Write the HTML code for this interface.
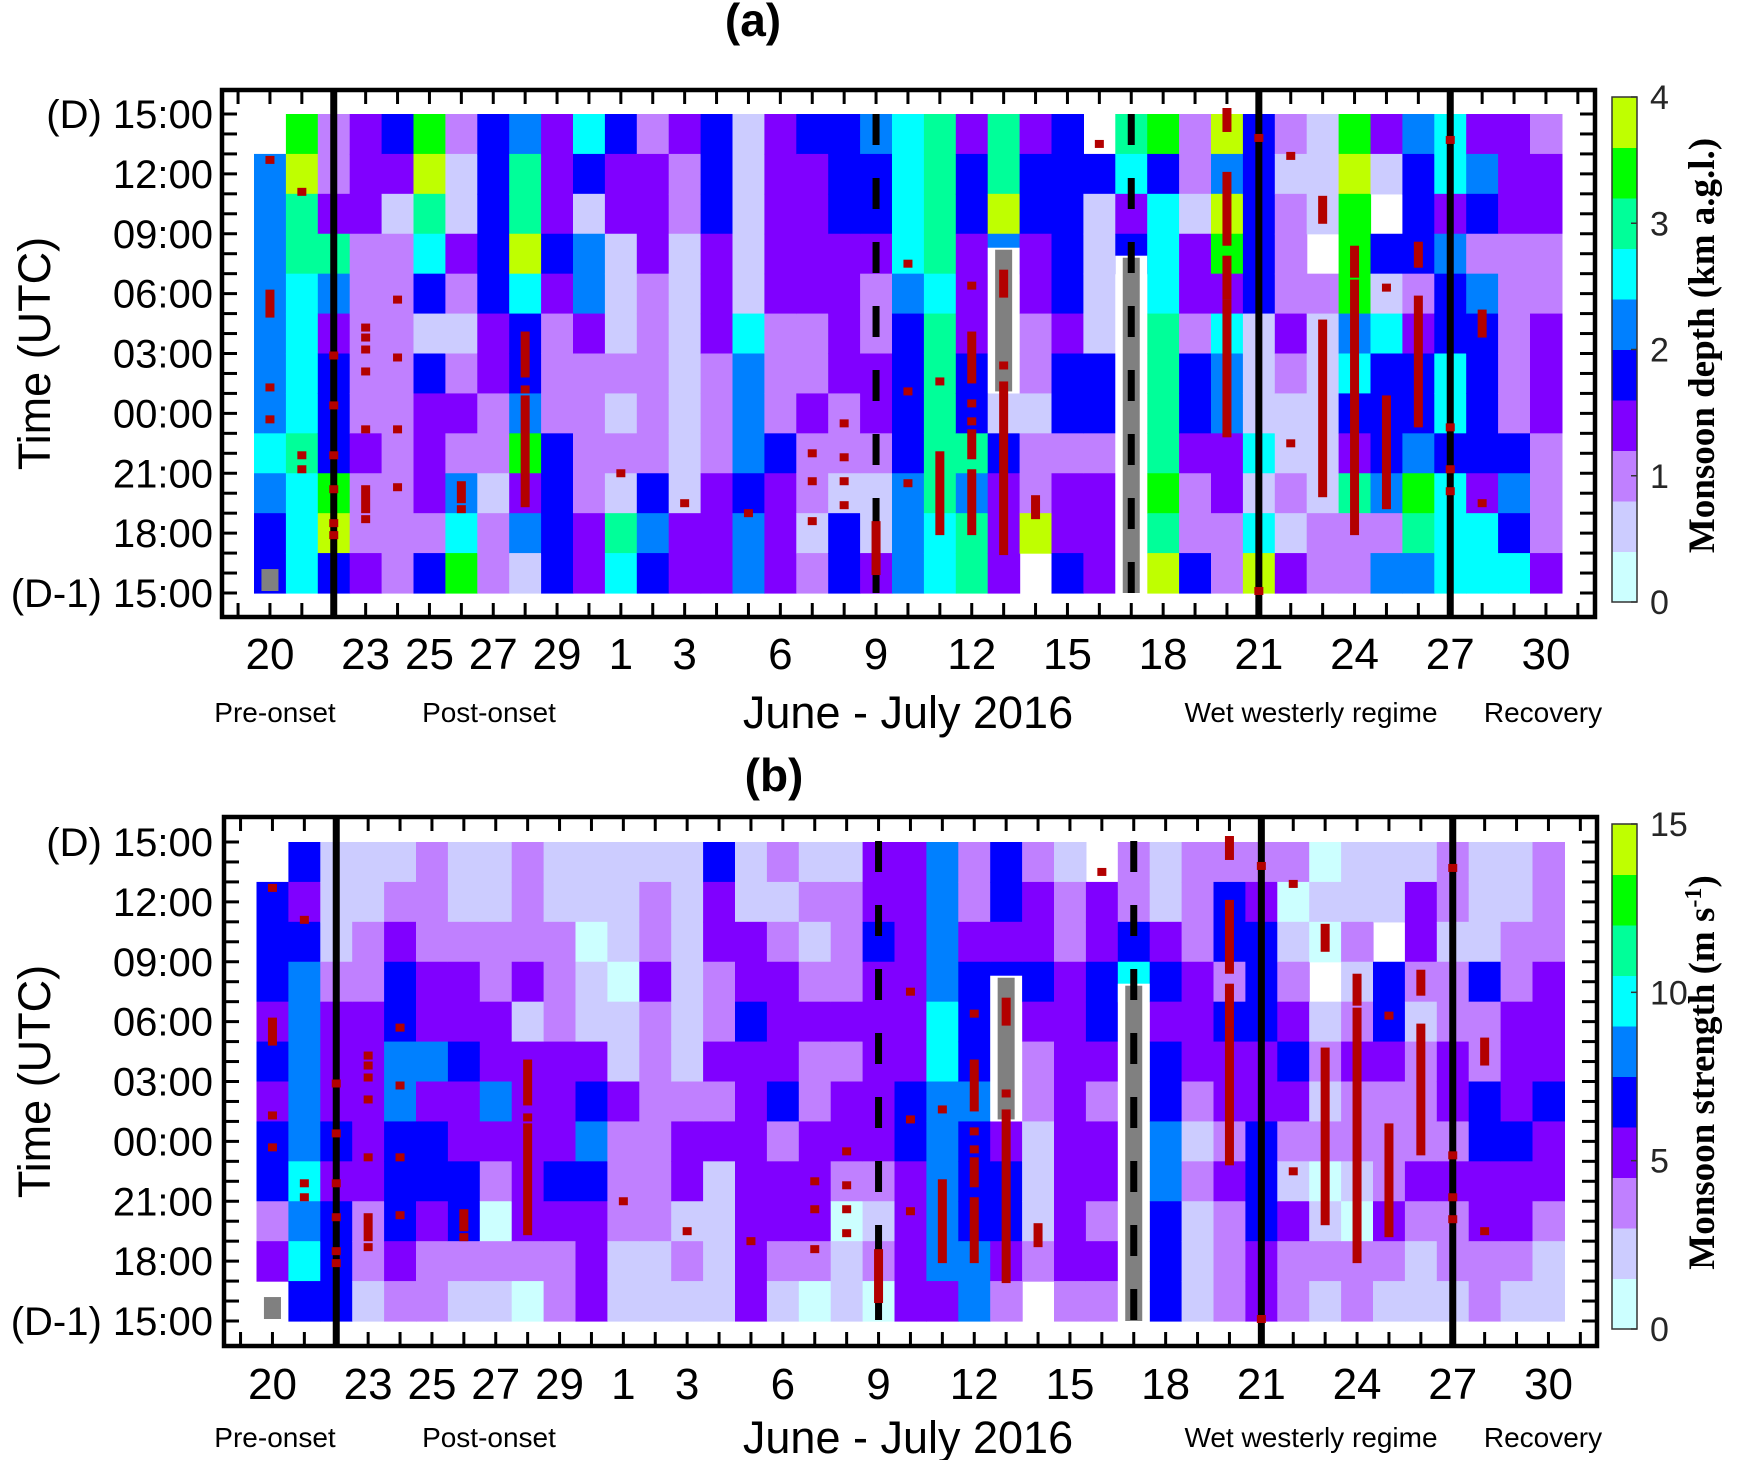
<!DOCTYPE html>
<html><head><meta charset="utf-8"><style>
html,body{margin:0;padding:0;background:#fff;}
svg{display:block;}
text{font-family:"Liberation Sans",Arial,sans-serif;}
</style></head><body>
<svg id="fig" width="1754" height="1460" viewBox="0 0 1754 1460" xmlns="http://www.w3.org/2000/svg"></svg>
<script>
// ---- data: monsoon depth (km a.g.l.), 12 two-hour bins per day, top (15:00 D) to bottom (15:00 D-1)
const depthA = [
[null,2.2,2.2,2.2,2.2,2.2,2.2,2.2,2.6,2.2,1.8,1.8],
[3.4,3.8,3,3,2.6,2.6,2.6,2.6,3,2.6,2.6,2.6],
[1,1,1.4,3,2.2,1.4,1.8,1.8,1.8,3.4,3.8,1.8],
[1.4,1.4,1.4,1,1,1,1,1,1.4,1,1,1.4],
[1.8,1.4,0.6,1,1,1,1,1,1,1,1,1],
[3.4,3.8,3,2.6,1.8,0.6,1.8,1.4,1.4,1.4,1,1.8],
[1,0.6,0.6,1.4,1,0.6,1,1.4,1,2.2,2.6,3.4],
[1.8,1.8,1.8,1.8,1.8,1.4,1.4,1,1,0.6,1,1],
[2.2,3,3,3.8,2.6,1.8,1.8,2.2,3.4,1.4,2.2,0.6],
[1.4,1.4,1.4,1.8,1.4,1,1,1,1.8,1.8,1.8,1.8],
[2.6,1.8,0.6,2.2,2.2,1.4,1,1,1,1,1.4,1.4],
[1.8,1.4,1.4,0.6,0.6,0.6,1,0.6,1,0.6,3,2.6],
[1,1.4,1.4,1.4,1,1,1,1,1,1.8,2.2,1.8],
[1.4,1,1,0.6,0.6,0.6,0.6,0.6,0.6,0.6,1.4,1.4],
[1.8,1.8,1.8,1.4,1.4,1.4,1,1,1,1.4,1.4,1.4],
[0.6,0.6,0.6,0.6,0.6,2.6,2.2,2.2,2.2,1.8,2.2,2.2],
[1.4,1.4,1.4,1.4,1.4,1,1,1,1.8,1.4,1.4,1.4],
[1.8,1.4,1.4,1.4,1.4,1,1,1.4,1,1,0.6,1],
[1.8,1.8,1.8,1.4,1.4,1.4,1.4,1,1,0.6,1.8,1.8],
[2.2,1.8,1.8,1.4,1,1,1.4,1.4,1,0.6,0.6,1.4],
[2.6,2.6,2.6,2.6,2.2,1.8,1.8,1.8,1.8,2.2,2.2,2.2],
[3,3,3,3,2.6,3,3,3,3,3,2.6,2.6],
[1.4,1.8,1.8,1.4,1.4,1.4,1.8,1.8,3,2.2,3,3],
[3,3,3.8,2.2,null,null,null,0.6,1.8,1.4,1.4,1.4],
[1.4,1.8,1.8,1.4,1.4,1,1,0.6,1,1,3.8,null],
[1.8,1.8,1.8,1.8,1.8,1.4,1.8,1.8,1,1.4,1.4,1.8],
[null,1.8,0.6,0.6,0.6,0.6,1.8,1.8,1,1.4,1.4,1.4],
[3,2.6,1.4,1.8,null,null,null,null,null,null,null,null],
[3.4,1.8,2.6,2.6,2.6,3,3,3,3,3.4,3,3.8],
[1,1,0.6,1.4,1.4,1,1.8,1.8,1.4,1,1,1.8],
[3.8,2.2,3.8,3.4,1.4,2.6,2.2,2.2,1.4,1.4,1,1],
[1.8,1.8,1.8,1.8,1.8,0.6,0.6,0.6,2.6,0.6,2.6,3.8],
[1,0.6,1,1,1,1.4,1,0.6,0.6,1,0.6,1.4],
[0.6,0.6,0.6,null,1,0.6,0.6,0.6,0.6,0.6,1,1],
[3.4,3.8,3.4,3.4,3.4,2.2,2.6,1.8,1.4,3,1,1],
[1.4,0.6,null,1.8,0.6,2.6,1.8,1.8,1.8,2.2,1,2.2],
[2.2,1.8,1.8,1.8,1,1.4,1.8,1.8,2.2,3.4,3,2.2],
[2.6,2.6,1.4,2.2,1.8,1.8,2.6,2.6,1.8,2.6,2.6,2.6],
[1.4,2.2,1.8,1,2.2,1.8,1.8,1.8,1.8,1.4,2.6,2.6],
[1.4,1.4,1.4,1,1,1,1,1,1.8,2.2,1.8,2.6],
[1,1.4,1.4,1,1,1.4,1.4,1.4,1,1,1,1.4]
];
// ---- data: monsoon strength (m/s)
const strengthB = [
[null,6.8,6.8,6.8,5.3,6.8,5.3,6.8,6.8,3.8,5.3,null],
[6.8,5.3,6.8,8.3,8.3,8.3,8.3,8.3,9.8,8.3,9.8,6.8],
[2.3,2.3,2.3,3.8,5.3,5.3,5.3,6.8,5.3,6.8,6.8,6.8],
[2.3,2.3,3.8,3.8,5.3,5.3,5.3,5.3,5.3,3.8,3.8,2.3],
[2.3,3.8,5.3,6.8,6.8,8.3,8.3,6.8,6.8,6.8,5.3,3.8],
[3.8,3.8,3.8,5.3,5.3,8.3,5.3,6.8,6.8,5.3,3.8,3.8],
[2.3,2.3,3.8,5.3,5.3,6.8,5.3,5.3,6.8,6.8,3.8,2.3],
[2.3,2.3,3.8,3.8,5.3,5.3,8.3,5.3,3.8,0.8,3.8,2.3],
[3.8,3.8,3.8,5.3,2.3,5.3,5.3,5.3,5.3,5.3,3.8,0.8],
[2.3,2.3,3.8,3.8,3.8,5.3,5.3,5.3,6.8,5.3,3.8,3.8],
[2.3,2.3,0.8,2.3,2.3,5.3,6.8,8.3,6.8,5.3,5.3,5.3],
[2.3,2.3,2.3,0.8,2.3,2.3,5.3,3.8,3.8,3.8,2.3,2.3],
[2.3,3.8,3.8,5.3,3.8,3.8,3.8,3.8,3.8,3.8,2.3,2.3],
[2.3,2.3,2.3,2.3,2.3,2.3,3.8,5.3,5.3,2.3,3.8,2.3],
[6.8,5.3,5.3,3.8,3.8,5.3,3.8,5.3,2.3,2.3,2.3,2.3],
[2.3,2.3,5.3,5.3,6.8,5.3,5.3,5.3,5.3,5.3,5.3,5.3],
[3.8,2.3,3.8,5.3,5.3,5.3,6.8,3.8,5.3,5.3,3.8,2.3],
[2.3,3.8,2.3,3.8,5.3,3.8,3.8,5.3,5.3,5.3,3.8,0.8],
[2.3,3.8,3.8,3.8,5.3,3.8,5.3,5.3,3.8,0.8,2.3,2.3],
[5.3,5.3,6.8,5.3,5.3,5.3,5.3,5.3,3.8,2.3,3.8,0.8],
[5.3,5.3,5.3,5.3,5.3,5.3,6.8,6.8,5.3,5.3,5.3,5.3],
[8.3,8.3,8.3,8.3,9.8,9.8,8.3,8.3,8.3,8.3,8.3,5.3],
[3.8,3.8,5.3,6.8,6.8,6.8,8.3,6.8,6.8,6.8,8.3,8.3],
[6.8,6.8,5.3,6.8,null,null,null,5.3,6.8,6.8,5.3,3.8],
[3.8,5.3,5.3,6.8,5.3,3.8,3.8,2.3,2.3,2.3,3.8,null],
[2.3,3.8,3.8,5.3,5.3,5.3,5.3,5.3,5.3,5.3,5.3,3.8],
[null,5.3,5.3,6.8,6.8,5.3,3.8,5.3,5.3,3.8,5.3,3.8],
[3.8,3.8,6.8,9.8,null,null,null,null,null,null,null,null],
[2.3,2.3,5.3,6.8,5.3,6.8,6.8,8.3,8.3,6.8,6.8,6.8],
[3.8,3.8,3.8,5.3,5.3,5.3,3.8,2.3,3.8,2.3,2.3,2.3],
[3.8,6.8,6.8,3.8,6.8,5.3,5.3,3.8,5.3,3.8,3.8,3.8],
[3.8,5.3,6.8,6.8,6.8,5.3,5.3,6.8,6.8,6.8,5.3,5.3],
[3.8,0.8,2.3,3.8,5.3,6.8,5.3,3.8,2.3,5.3,3.8,3.8],
[0.8,2.3,0.8,null,2.3,3.8,2.3,3.8,0.8,2.3,3.8,2.3],
[2.3,2.3,3.8,2.3,3.8,5.3,3.8,3.8,2.3,0.8,3.8,3.8],
[2.3,2.3,null,6.8,6.8,5.3,3.8,3.8,3.8,5.3,3.8,2.3],
[2.3,5.3,5.3,3.8,2.3,3.8,3.8,3.8,5.3,3.8,2.3,2.3],
[3.8,3.8,2.3,3.8,3.8,5.3,5.3,3.8,5.3,3.8,3.8,2.3],
[2.3,2.3,2.3,6.8,3.8,3.8,6.8,6.8,5.3,5.3,3.8,3.8],
[2.3,2.3,3.8,3.8,5.3,5.3,5.3,6.8,5.3,5.3,3.8,2.3],
[3.8,3.8,3.8,5.3,5.3,5.3,6.8,5.3,5.3,3.8,2.3,2.3]
];
// red rain markers: [day index, start hour from top, end hour]
const rainMarks = [
[0,2.3,2.3],[0,9,10],[0,13.7,13.7],[0,15.3,15.3],[1,3.9,3.9],[1,17.1,17.1],[1,17.8,17.8],
[2,12.1,12.1],[2,14.6,14.6],[2,17.1,17.1],[2,18.8,18.8],[2,20.5,20.5],[2,21.1,21.1],
[3,10.7,10.7],[3,11.2,11.2],[3,11.8,11.8],[3,12.9,12.9],[3,15.8,15.8],[3,18.8,19.8],[3,20.3,20.3],
[4,9.3,9.3],[4,12.2,12.2],[4,15.8,15.8],[4,18.7,18.7],[6,18.6,19.3],[6,19.8,19.8],
[8,11.1,13],[8,13.8,13.8],[8,14.3,19.5],[11,18,18],[13,19.5,19.5],[15,20,20],
[17,17,17],[17,18.4,18.4],[17,20.4,20.4],[18,15.5,15.5],[18,17.2,17.2],[18,18.4,18.4],[18,19.6,19.6],
[19,20.6,22.9],[20,7.5,7.5],[20,13.9,13.9],[20,18.5,18.5],[21,13.4,13.4],[21,17.1,20.9],
[22,8.6,8.6],[22,11.1,13.3],[22,14.5,14.5],[22,15.4,15.4],[22,16,17.1],[22,18,20.9],
[23,8,9],[23,12.6,12.6],[23,13.6,21.9],[24,19.3,20.1],[26,1.5,1.5],
[30,-0.1,0.7],[30,3.1,6.4],[30,7.3,9.1],[30,9.5,16],[31,1.2,1.2],[31,23.9,23.9],
[32,2.1,2.1],[32,16.5,16.5],[33,4.3,5.3],[33,10.5,19],[34,6.8,8],[34,8.5,20.9],
[35,8.7,8.7],[35,14.3,19.6],[36,6.6,7.5],[36,9.3,15.5],[37,1.3,1.3],[37,15.7,15.7],[37,17.8,17.8],[37,18.9,18.9],
[38,10,11],[38,19.5,19.5]
];
// gray (missing data) bars: [day index, start hour, end hour]
const grayBars = [[23,6.8,13.9],[27,7.2,24]];
const solidLines = [2,31,37];
const dashedLines = [19,27];
const dayTickIdx = [0,3,5,7,9,11,13,16,19,22,25,28,31,34,37,40];
const dayTickLabels = ["20","23","25","27","29","1","3","6","9","12","15","18","21","24","27","30"];
const hourTickLabels = ["(D) 15:00","12:00","09:00","06:00","03:00","00:00","21:00","18:00","(D-1) 15:00"];
const regimeLabels = ["Pre-onset","Post-onset","Wet westerly regime","Recovery"];
const cbTicksA = [0,1,2,3,4];
const cbTicksB = [0,5,10,15];
const palette = ["#ccffff","#ccccff","#c080ff","#8000ff","#0000ff","#0080ff","#00ffff","#00ff99","#00ff00","#bfff00"];

const NS="http://www.w3.org/2000/svg";
const svg=document.getElementById('fig');
function mk(tag,attrs,parent){const e=document.createElementNS(NS,tag);for(const k in attrs)e.setAttribute(k,attrs[k]);(parent||svg).appendChild(e);return e;}
const COLW=31.9, HPX=479/24;

function drawPanel(p){
  const g=mk('g',{});
  
  
  const x=i=>p.x0+i*COLW;
  const y=h=>p.y0+h*HPX;
  p.data.forEach((col,i)=>{
    col.forEach((v,k)=>{
      if(v===null) return;
      const lvl=Math.max(0,Math.min(9,Math.floor(v/p.step)));
      const r=mk('rect',{x:x(i).toFixed(2),y:y(k*2).toFixed(2),width:(COLW+0.6).toFixed(2),height:(2*HPX+0.6).toFixed(2),fill:palette[lvl]},g);
      
      
    });
  });
  grayBars.forEach(b=>{
    const w=mk('rect',{x:x(b[0]),y:y(b[1])-2,width:COLW,height:y(b[2])-y(b[1])+4,fill:'#fff'},g);
    
    
    const r=mk('rect',{x:x(b[0]+0.5)-8.5,y:y(b[1]),width:17,height:y(b[2])-y(b[1]),fill:'#808080'},g);
    
    
  });
  const sq=mk('rect',{x:x(0.5)-8.5,y:y(22.8),width:17,height:y(23.9)-y(22.8),fill:'#808080'},g);
  
  
  const fr=mk('rect',{x:p.fx,y:p.fy,width:p.fw,height:p.fh,fill:'none',stroke:'#000','stroke-width':4.5},g);
  
  
  for(let h=0;h<=24;h++){
    const t1=mk('line',{x1:p.fx,x2:p.fx+15,y1:y(h),y2:y(h),stroke:'#000','stroke-width':3},g);
    
    
    const t2=mk('line',{x1:p.fx+p.fw-15,x2:p.fx+p.fw,y1:y(h),y2:y(h),stroke:'#000','stroke-width':3},g);
    
    
  }
  for(let i=-1;i<=41;i++){
    const cx=x(i+0.5);
    if(cx<p.fx+3||cx>p.fx+p.fw-3) continue;
    const t1=mk('line',{x1:cx,x2:cx,y1:p.fy,y2:p.fy+14,stroke:'#000','stroke-width':3},g);
    
    
    const t2=mk('line',{x1:cx,x2:cx,y1:p.fy+p.fh-14,y2:p.fy+p.fh,stroke:'#000','stroke-width':3},g);
    
    
  }
  solidLines.forEach(i=>{
    const l=mk('line',{x1:x(i+0.5),x2:x(i+0.5),y1:p.fy,y2:p.fy+p.fh,stroke:'#000','stroke-width':7},g);
    
    
  });
  dashedLines.forEach(i=>{
    const l=mk('line',{x1:x(i+0.5),x2:x(i+0.5),y1:p.fy+24,y2:p.fy+p.fh,stroke:'#000','stroke-width':7,'stroke-dasharray':'31 33'},g);
    
    
  });
  rainMarks.forEach(m=>{
    const y1=y(m[1])-4, y2=y(m[2])+4;
    const r=mk('rect',{x:x(m[0]+0.5)-4.5,y:y1,width:9,height:y2-y1,fill:'#b30000'},g);
    
    
  });
  hourTickLabels.forEach((lab,j)=>{
    const t=mk('text',{x:213,y:y(j*3)+14,'text-anchor':'end','font-size':40,fill:'#000'},g);
    t.textContent=lab;
    
    
  });
  const yt=mk('text',{x:0,y:0,transform:`translate(50,${y(12)}) rotate(-90)`,'text-anchor':'middle','font-size':45},g);
  yt.textContent='Time (UTC)';
  
  
  dayTickIdx.forEach((d,j)=>{
    const t=mk('text',{x:x(d+0.5),y:p.labY,'text-anchor':'middle','font-size':44,style:'font-family:"Liberation Sans Narrow","Liberation Sans",sans-serif'},g);
    t.textContent=dayTickLabels[j];
    
    
  });
  const rx=[275,489,1311,1543];
  regimeLabels.forEach((lab,j)=>{
    const t=mk('text',{x:rx[j],y:p.regY,'text-anchor':'middle','font-size':28},g);
    t.textContent=lab;
    
    
  });
  const xt=mk('text',{x:908,y:p.regY+6,'text-anchor':'middle','font-size':45},g);
  xt.textContent='June - July 2016';
  
  
  const tt=mk('text',{x:p.titleX,y:p.titleY,'text-anchor':'middle','font-size':46,'font-weight':'bold'},g);
  tt.textContent=p.title;
  
  
  const cb=mk('g',{},g);
  
  
  const bh=(p.cbB-p.cbT)/10;
  for(let k=0;k<10;k++){
    const r=mk('rect',{x:1612,y:p.cbB-(k+1)*bh,width:25,height:bh+0.5,fill:palette[k]},cb);
    
    
  }
  mk('rect',{x:1612,y:p.cbT,width:25,height:p.cbB-p.cbT,fill:'none',stroke:'#333','stroke-width':1.5},cb);
  p.cbTicks.forEach(v=>{
    const yy=p.cbB-(v/p.cbMax)*(p.cbB-p.cbT);
    mk('line',{x1:1631,x2:1637,y1:yy,y2:yy,stroke:'#333','stroke-width':1.5},cb);
    const t=mk('text',{x:1650,y:yy+12,'font-size':34,fill:'#262626'},cb);
    t.textContent=String(v);
    
    
  });
  const ct=mk('text',{x:0,y:0,transform:`translate(1714,${(p.cbT+p.cbB)/2-4}) rotate(-90)`,'text-anchor':'middle','font-size':37,'font-weight':'bold',style:'font-family:"Liberation Serif","Times New Roman",serif'},cb);
  ct.innerHTML=p.cbTitle;
  
  
}

drawPanel({name:'panel-a',data:depthA,step:0.4,x0:254,y0:114,fx:222,fy:90,fw:1373,fh:527,
  labY:669,regY:722,title:'(a)',titleX:753,titleY:36,cbT:97,cbB:602,cbMax:4,cbTicks:cbTicksA,
  cbTitle:'Monsoon depth (km a.g.l.)'});
drawPanel({name:'panel-b',data:strengthB,step:1.5,x0:256.5,y0:842,fx:224,fy:817,fw:1373,fh:529,
  labY:1399,regY:1447,title:'(b)',titleX:774,titleY:791,cbT:824,cbB:1329,cbMax:15,cbTicks:cbTicksB,
  cbTitle:'Monsoon strength (m s<tspan baseline-shift="super" font-size="24">-1</tspan>)'});
</script>
</body></html>
